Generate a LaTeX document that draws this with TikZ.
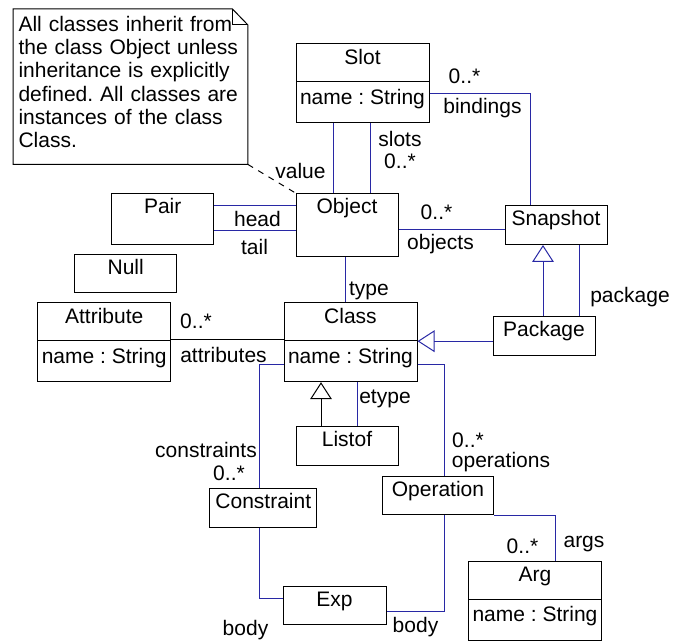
\documentclass[tikz,border=0pt]{standalone}
\usepackage{fontspec}
\setmainfont{Liberation Sans}
\usetikzlibrary{positioning,shapes.multipart,arrows.meta}
\definecolor{linkblue}{RGB}{40,40,165}
\newcommand\clshead{\rule[-8.5pt]{0pt}{18.5pt}}
\newcommand\clsbody{\rule[-9pt]{0pt}{20pt}}
\frenchspacing

\begin{document}
\begin{tikzpicture}[x=0.5pt,y=-0.5pt,on grid,
   font=\fontsize{10.5pt}{11.67pt}\selectfont,
   cls/.style={draw,rectangle,inner sep=0pt,line width=0.5pt,minimum width=51pt,text height=10pt,text depth=9.5pt},
   cls2/.style={draw,rectangle split,rectangle split parts=2,inner sep=0pt,line width=0.5pt,minimum width=66.5pt},
   assoc/.style={draw=linkblue,line width=0.5pt},
   gen/.style={-{Triangle[open,length=8.5pt,width=10.85pt]}},
   lbl/.style={inner sep=0pt}]
   \useasboundingbox (0,0) rectangle (682,641);

   \node[cls,text depth=21.5pt] (object) at (347,225) {Object};
   \node[cls2] (slot) [above right=70.75pt and 7.75pt of object] {Slot\clshead\nodepart{two}name : String\clsbody};
   \node[cls,text depth=15.5pt] (pair) [above left=3.15pt and 92.15pt of object] {Pair};
   \node[cls,text depth=9pt] (null) [below left=27.65pt and 18.5pt of pair] {Null};
   \node[cls2] (class) [below right=58.6pt and 1.75pt of object] {Class\clshead\nodepart{two}name : String\clsbody};
   \node[cls2] (attribute) [left=123.15pt of class] {Attribute\clshead\nodepart{two}name : String\clsbody};
   \node[cls] (snapshot) [right=104.5pt of object] {Snapshot};
   \node[cls] (package) [below left=55.5pt and 6pt of snapshot] {Package};
   \node[cls] (listof) [below left=51.9pt and 1.75pt of class] {Listof};
   \node[cls,minimum width=53.5pt] (constraint) [below left=82.75pt and 43.6pt of class] {Constraint};
   \node[cls,minimum width=55.5pt,text depth=9pt] (operation) [below right=76.75pt and 43.75pt of class] {Operation};
   \node[cls,minimum width=51.5pt,text depth=9pt] (exp) [below left=80pt and 6.25pt of listof] {Exp};
   \node[cls2] (arg) [below right=52.5pt and 48.5pt of operation] {Arg\clshead\nodepart{two}name : String\clsbody};

   % comment note
   \node[lbl,text width=112pt,align=left,inner xsep=2.5pt,text height=10.85pt,text depth=66.5pt] (note)
      [above left=69.15pt and 108.25pt of object]
      {All classes inherit from\\the class Object unless\\inheritance is explicitly\\defined. All classes are\\instances of the class\\Class.};
   \draw[line width=0.5pt] (note.south west) -- (note.north west) -- ([xshift=-7.75pt]note.north east)
      -- ([yshift=-8pt]note.north east) -- (note.south east) -- cycle;
   \draw[line width=0.5pt] ([xshift=-7.75pt]note.north east) |- ([yshift=-8pt]note.north east);
   \draw[line width=0.5pt,dash pattern=on 3pt off 3pt] (note.south east) -- (object.north west);

   % associations
   \draw[assoc] ([xshift=-6.85pt]object.north) -- node[lbl,pos=0,xshift=-16.4pt,yshift=11pt] {value}
      ([xshift=-6.85pt]object.north |- slot.south);
   \draw[assoc] ([xshift=11.5pt]object.north)
      -- node[lbl,pos=0,xshift=15pt,yshift=27pt] {slots}
         node[lbl,pos=0,xshift=15pt,yshift=16pt] {0..*}
      ([xshift=11.5pt]object.north |- slot.south);
   \draw[assoc] ([yshift=-25pt]slot.north east)
      -| node[lbl,pos=0,xshift=17.5pt,yshift=8.5pt] {0..*}
         node[lbl,pos=0,xshift=26.5pt,yshift=-7.5pt] {bindings}
      ([xshift=-13pt]snapshot.north);
   \draw[assoc] ([yshift=-2.5pt]object.east)
      -- node[lbl,pos=0,xshift=19pt,yshift=9pt] {0..*}
         node[lbl,pos=0,xshift=21pt,yshift=-7pt] {objects}
      ([yshift=-2.5pt]object.east -| snapshot.west);
   \draw[assoc] ([yshift=6.5pt]pair.east) -- node[lbl,pos=0,xshift=21.65pt,yshift=-6.65pt] {head}
      ([yshift=6.5pt]pair.east -| object.west);
   \draw[assoc] ([yshift=-6pt]pair.east) -- node[lbl,pos=0,xshift=20.15pt,yshift=-8.15pt] {tail}
      ([yshift=-6pt]pair.east -| object.west);
   \draw[assoc] ([xshift=-0.65pt]object.south) -- node[lbl,pos=0,xshift=11.65pt,yshift=-17.15pt] {type}
      ([xshift=-0.65pt]object.south |- class.north);
   \draw[line width=0.5pt] ([yshift=-18.5pt]attribute.north east)
      -- node[lbl,pos=0,xshift=12.4pt,yshift=9pt] {0..*}
         node[lbl,pos=0,xshift=26.15pt,yshift=-8pt] {attributes}
      ([yshift=-18.5pt]attribute.north east -| class.west);
   \draw[assoc] ([xshift=17.5pt]package.north) -- node[lbl,pos=0,xshift=25.5pt,yshift=9.5pt] {package}
      ([xshift=17.5pt]package.north |- snapshot.south);
   \draw[assoc] ([xshift=5.35pt]listof.north) -- node[lbl,pos=0,xshift=13.65pt,yshift=13.35pt] {etype}
      ([xshift=5.35pt]listof.north |- class.south);
   \draw[assoc] ([yshift=-31pt]class.north west)
      -| node[lbl,pos=1,xshift=-26.65pt,yshift=18.65pt] {constraints}
         node[lbl,pos=1,xshift=-15.15pt,yshift=7.15pt] {0..*}
      ([xshift=-2pt]constraint.north);
   \draw[assoc] ([yshift=-31pt]class.north east)
      -| node[lbl,pos=1,xshift=12pt,yshift=17.85pt] {0..*}
         node[lbl,pos=1,xshift=28.5pt,yshift=6.85pt] {operations}
      ([xshift=3pt]operation.north);
   \draw[assoc] ([xshift=-2pt]constraint.south)
      |- node[lbl,pos=1,xshift=-18.5pt,yshift=-15.5pt] {body} ([yshift=3.5pt]exp.west);
   \draw[assoc] ([xshift=3pt]operation.south)
      |- node[lbl,pos=1,xshift=14.5pt,yshift=-7.5pt] {body} ([yshift=-3pt]exp.east);
   \draw[assoc] (operation.south east)
      -| node[lbl,pos=1,xshift=-16.25pt,yshift=7.15pt] {0..*}
         node[lbl,pos=1,xshift=14.5pt,yshift=8.15pt] {args}
      ([xshift=10pt]arg.north);

   % generalisations
   \draw[assoc,gen] ([yshift=-2.6pt]package.west) -- ([yshift=-2.6pt]package.west -| class.east);
   \draw[assoc,gen] ([xshift=-0.5pt]package.north) -- ([xshift=-0.5pt]package.north |- snapshot.south);
   \draw[line width=0.5pt,gen] ([xshift=-13pt]listof.north) -- ([xshift=-13pt]listof.north |- class.south);
\end{tikzpicture}
\end{document}
